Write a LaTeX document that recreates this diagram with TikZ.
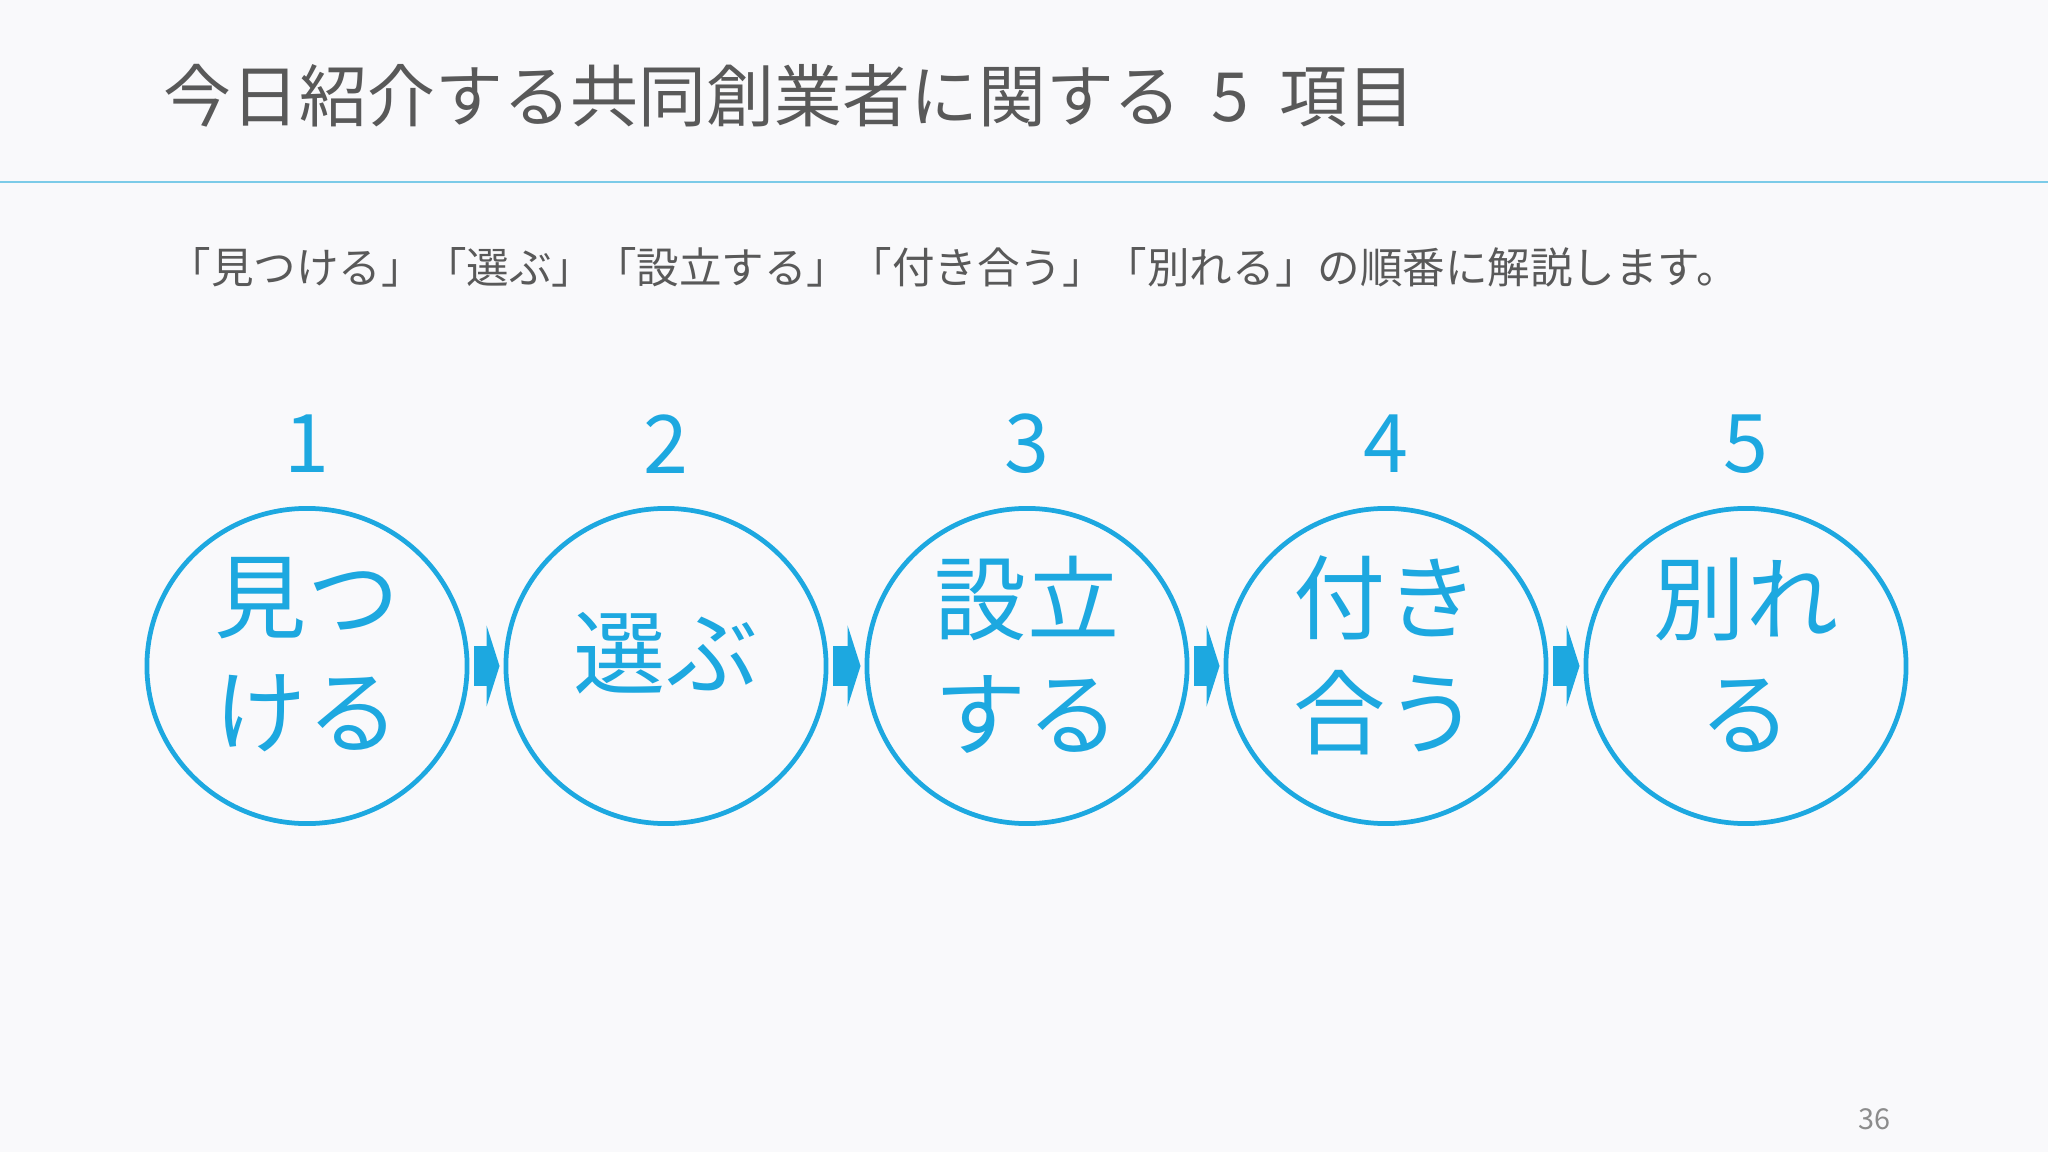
\documentclass[tikz,border=0pt]{standalone}
\usepackage{fontspec}
\setmainfont{Noto Sans CJK JP}
\usetikzlibrary{arrows.meta,shapes.geometric}
\definecolor{slideblue}{HTML}{1DA8E0}
\definecolor{ruleblue}{HTML}{7CCBE8}
\definecolor{titlegray}{HTML}{595959}
\definecolor{pagegray}{HTML}{8C8C8C}
\definecolor{slidebg}{HTML}{F9F9FB}
\tikzset{
  stage/.style={ellipse, draw=slideblue, line width=1.35pt, minimum width=3.2cm, minimum height=3.15cm, inner sep=0pt},
  stagetext/.style={text=slideblue, align=center, inner sep=0pt, font=\fontsize{26.2}{32.7}\selectfont},
  stagenum/.style={text=slideblue, inner sep=0pt, font=\fontsize{23}{23}\selectfont},
  flow/.style={slideblue, line width=0.4cm, -{Triangle[width=0.81cm,length=0.13cm]}, shorten <=0.05cm, shorten >=0.04cm}
}
\begin{document}
\begin{tikzpicture}[x=0.01cm,y=-0.01cm]
  \fill[slidebg] (0,0) rectangle (2048,1152);
  \useasboundingbox (0,0) rectangle (2048,1152);
  % title and rule
  \node[anchor=west, inner sep=0pt, text=titlegray, font=\fontsize{19.3}{23}\selectfont] (title) at (163,96) {今日紹介する共同創業者に関する\hspace{0.15cm} 5 \hspace{0.15cm}項目};
  \coordinate (ruleL) at (0,182);
  \coordinate (ruleR) at (2048,182);
  \draw[ruleblue, line width=0.7pt] (ruleL) -- (ruleR);
  \node[anchor=west, inner sep=0pt, text=titlegray, font=\fontsize{12.1}{14}\selectfont] (intro) at (168,267) {「見つける」「選ぶ」「設立する」「付き合う」「別れる」の順番に解説します。};
  % the five stages
  \node[stage] (c1) at (307,666) {};
  \node[stage] (c2) at (666,666) {};
  \node[stage] (c3) at (1027,666) {};
  \node[stage] (c4) at (1386,666) {};
  \node[stage] (c5) at (1746,666) {};
  \node[stagetext] (t1) at (307,655) {見つ\\ける};
  \node[stagetext] (t2) at (666,653) {選ぶ};
  \node[stagetext] (t3) at (1027,655) {設立\\する};
  \node[stagetext] (t4) at (1386,655) {付き\\合う};
  \node[stagetext] (t5) at (1746,655) {別れ\\る};
  \node[stagenum] (n1) at (307,444) {1};
  \node[stagenum] (n2) at (666,444) {2};
  \node[stagenum] (n3) at (1027,444) {3};
  \node[stagenum] (n4) at (1386,444) {4};
  \node[stagenum] (n5) at (1746,444) {5};
  \draw[flow] (c1.east) -- (c2.west);
  \draw[flow] (c2.east) -- (c3.west);
  \draw[flow] (c3.east) -- (c4.west);
  \draw[flow] (c4.east) -- (c5.west);
  % page number
  \node[inner sep=0pt, text=pagegray, font=\fontsize{8.2}{10}\selectfont] (page) at (1874,1119) {36};
\end{tikzpicture}
\end{document}
